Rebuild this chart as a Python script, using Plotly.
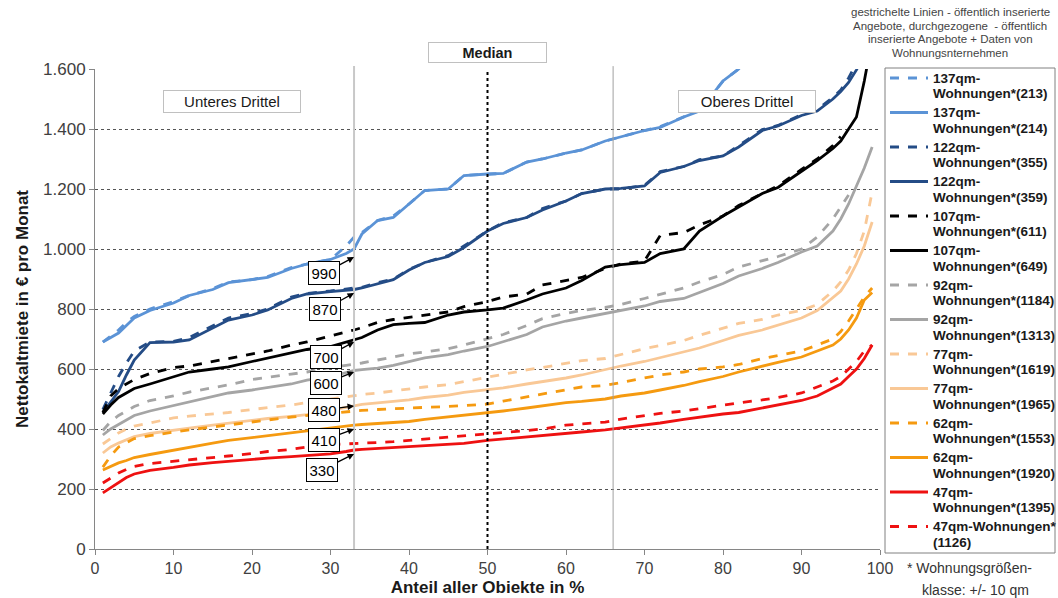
import plotly.graph_objects as go

# shared x grid (Anteil aller Objekte in %)
x_pct = [1, 2, 3, 4, 5, 7, 10, 12, 15, 17, 20, 22, 25, 27, 30, 32, 33, 34, 36, 38, 40, 42, 45, 47, 50,
         52, 55, 57, 60, 62, 65, 67, 70, 72, 75, 77, 80, 82, 85, 87, 90, 92, 94, 95, 96, 97, 98, 99]

qm137_dashed = [690, 710, 730, 755, 775, 800, 825, 845, 868, 890, 898, 908, 938, 950, 965, 1010, 1040, 1055, 1095, 1110, 1150, 1195, 1200, 1245, 1250,
                1252, 1290, 1300, 1320, 1330, 1360, 1375, 1395, 1408, 1440, 1462, 1560, 1600, 1700, None, None, None, None, None, None, None, None, None]
qm137_solid = [690, 705, 720, 745, 770, 795, 820, 845, 865, 888, 898, 905, 935, 950, 965, 985, 1000, 1050, 1095, 1105, 1150, 1195, 1200, 1245, 1250,
               1252, 1290, 1300, 1320, 1330, 1360, 1375, 1395, 1405, 1440, 1460, 1560, 1600, 1700, None, None, None, None, None, None, None, None, None]
qm122_dashed = [465, 520, 575, 620, 660, 690, 692, 705, 745, 770, 785, 800, 840, 852, 860, 868, 870, 872, 888, 900, 932, 955, 978, 1010, 1060,
                1088, 1105, 1135, 1160, 1185, 1200, 1200, 1212, 1258, 1275, 1298, 1310, 1345, 1398, 1412, 1448, 1465, 1505, 1530, 1570, 1620, None, None]
qm122_solid = [455, 490, 525, 580, 630, 688, 690, 697, 735, 763, 780, 797, 835, 850, 858, 862, 865, 870, 885, 898, 930, 955, 975, 1005, 1060,
               1085, 1105, 1130, 1160, 1185, 1200, 1202, 1210, 1255, 1275, 1295, 1310, 1340, 1395, 1410, 1445, 1460, 1500, 1525, 1555, 1597, 1650, None]
qm107_dashed = [455, 510, 535, 550, 565, 585, 605, 610, 625, 635, 650, 660, 680, 690, 710, 722, 730, 738, 755, 765, 772, 778, 790, 808, 825,
                840, 850, 880, 895, 905, 935, 950, 960, 1045, 1055, 1080, 1110, 1145, 1185, 1210, 1265, 1300, 1345, 1375, None, None, None, None]
qm107_solid = [450, 480, 505, 520, 535, 550, 575, 590, 600, 607, 625, 637, 655, 665, 675, 690, 697, 705, 730, 748, 752, 755, 780, 790, 797,
               803, 830, 850, 870, 895, 940, 948, 955, 985, 1000, 1060, 1110, 1140, 1185, 1205, 1260, 1295, 1335, 1360, 1400, 1440, 1560, 1700]
qm92_dashed = [395, 425, 445, 460, 475, 495, 510, 523, 537, 547, 565, 573, 583, 590, 605, 612, 615, 620, 630, 640, 650, 657, 668, 680, 700,
               715, 745, 768, 785, 795, 805, 815, 835, 848, 870, 890, 915, 940, 960, 975, 1000, 1040, 1100, 1140, 1180, None, None, None]
qm92_solid = [380, 400, 415, 430, 445, 460, 478, 490, 507, 520, 530, 537, 550, 563, 575, 588, 595, 598, 603, 612, 625, 637, 648, 660, 675,
              690, 715, 740, 760, 770, 785, 795, 810, 825, 835, 855, 885, 910, 935, 955, 990, 1010, 1060, 1100, 1150, 1210, 1270, 1340]
qm77_dashed = [350, 370, 387, 400, 410, 420, 437, 443, 450, 455, 465, 470, 480, 488, 500, 507, 512, 515, 520, 527, 532, 540, 548, 558, 573,
               583, 597, 605, 620, 628, 635, 648, 668, 678, 695, 712, 735, 752, 765, 780, 795, 815, 860, 890, 930, 985, 1060, 1190]
qm77_solid = [320, 340, 353, 365, 375, 385, 397, 403, 413, 420, 430, 435, 442, 448, 462, 472, 477, 482, 487, 492, 497, 505, 513, 522, 530,
              537, 550, 557, 570, 580, 598, 610, 625, 638, 655, 670, 695, 712, 730, 745, 770, 795, 840, 860, 900, 950, 1010, 1090]
qm62_dashed = [273, 310, 340, 355, 368, 378, 390, 397, 407, 413, 423, 430, 440, 445, 452, 458, 460, 462, 465, 468, 470, 472, 475, 478, 483,
               493, 507, 515, 530, 540, 545, 555, 570, 580, 590, 600, 607, 615, 635, 645, 660, 680, 700, 725, 760, 800, 840, 870]
qm62_solid = [263, 275, 287, 295, 305, 315, 330, 340, 353, 362, 372, 378, 387, 395, 403, 410, 413, 415, 418, 422, 425, 432, 440, 447, 453,
              460, 470, 478, 488, 492, 500, 510, 520, 530, 545, 558, 575, 590, 610, 622, 640, 660, 680, 700, 730, 770, 830, 855]
qm47_solid = [187, 205, 223, 238, 250, 262, 272, 280, 288, 293, 300, 303, 308, 312, 317, 325, 330, 332, 335, 338, 340, 343, 348, 352, 362,
              367, 375, 380, 387, 390, 397, 403, 412, 420, 432, 440, 450, 455, 470, 478, 495, 510, 535, 550, 575, 600, 635, 680]
qm47_dashed = [220, 238, 253, 265, 275, 285, 292, 298, 305, 310, 318, 325, 332, 340, 348, 350, 350, 352, 355, 358, 362, 367, 373, 377, 382,
               388, 395, 400, 413, 418, 423, 433, 445, 452, 460, 468, 480, 487, 497, 505, 520, 540, 560, 575, 600, 625, 660, 680]

series_names = [("137qm-", "Wohnungen*(213)"), ("137qm-", "Wohnungen*(214)"),
                ("122qm-", "Wohnungen*(355)"), ("122qm-", "Wohnungen*(359)"),
                ("107qm-", "Wohnungen*(611)"), ("107qm-", "Wohnungen*(649)"),
                ("92qm-", "Wohnungen*(1184)"), ("92qm-", "Wohnungen*(1313)"),
                ("77qm-", "Wohnungen*(1619)"), ("77qm-", "Wohnungen*(1965)"),
                ("62qm-", "Wohnungen*(1553)"), ("62qm-", "Wohnungen*(1920)"),
                ("47qm-", "Wohnungen*(1395)"), ("47qm-Wohnungen*", "(1126)")]
series_values = [qm137_dashed, qm137_solid, qm122_dashed, qm122_solid, qm107_dashed, qm107_solid,
                 qm92_dashed, qm92_solid, qm77_dashed, qm77_solid, qm62_dashed, qm62_solid,
                 qm47_solid, qm47_dashed]
series_colors = ["#5B93D6", "#5B93D6", "#244C86", "#244C86", "#000000", "#000000",
                 "#A5A5A5", "#A5A5A5", "#F9C896", "#F9C896", "#F59A10", "#F59A10",
                 "#EE1111", "#EE1111"]
series_dash = ["dash", "solid", "dash", "solid", "dash", "solid", "dash", "solid",
               "dash", "solid", "dash", "solid", "solid", "dash"]

# values at the lower-third boundary (33 %) and where the arrows point
arrow_labels = [990, 870, 700, 600, 480, 410, 330]
arrow_tips = [973, 853, 690, 590, 477, 400, 317]

# plot-area geometry (pixels) for paper-coordinate placement of outside texts
L, R, T, B = 95, 880, 69, 549
def px(xp):
    return (xp - L) / (R - L)
def py(yp):
    return (B - yp) / (B - T)

fig = go.Figure()
for (n1, n2), vals, col, dash in zip(series_names, series_values, series_colors, series_dash):
    fig.add_trace(go.Scatter(x=x_pct, y=vals, mode="lines", name=n1 + " " + n2,
                             line=dict(color=col, width=2.8, dash=dash), showlegend=False))

# vertical reference lines
fig.add_shape(type="line", xref="x", yref="paper", x0=33, x1=33, y0=0, y1=1.006,
              line=dict(color="#C8C8C8", width=2))
fig.add_shape(type="line", xref="x", yref="paper", x0=66, x1=66, y0=0, y1=1.006,
              line=dict(color="#A0A0A0", width=1))
fig.add_shape(type="line", xref="x", yref="paper", x0=50, x1=50, y0=0, y1=1.0,
              line=dict(color="#000000", width=2, dash="dot"))

# boxed annotations
fig.add_annotation(x=50, y=py(52.5), xref="x", yref="paper", yanchor="middle", xanchor="center",
                   text="<b>Median</b>", showarrow=False,
                   font=dict(size=14.5, color="#1a1a1a"), bgcolor="white", bordercolor="#C0C0C0",
                   borderwidth=1, width=115, height=17, borderpad=1)
fig.add_annotation(x=17.45, y=1493, xref="x", yref="y", text="Unteres Drittel", showarrow=False,
                   font=dict(size=15, color="#1a1a1a"), bgcolor="white", bordercolor="#C0C0C0",
                   borderwidth=1, width=134, height=19, borderpad=1)
fig.add_annotation(x=83.06, y=1493, xref="x", yref="y", text="Oberes Drittel", showarrow=False,
                   font=dict(size=15, color="#1a1a1a"), bgcolor="white", bordercolor="#C0C0C0",
                   borderwidth=1, width=134, height=19, borderpad=1)

label_offsets = [(-30, 16), (-29, 16), (-28, 15), (-28, 11), (-30, 4), (-30, 11), (-32, 16)]
for lab, tip, (oax, oay) in zip(arrow_labels, arrow_tips, label_offsets):
    fig.add_annotation(x=33, y=tip, xref="x", yref="y", text=str(lab), showarrow=True,
                       arrowhead=2, arrowsize=1, arrowwidth=1.3, arrowcolor="black",
                       ax=oax, ay=oay, font=dict(size=15, color="black"),
                       bgcolor="white", bordercolor="black", borderwidth=1, borderpad=2.5)

# top-right note
note_lines = ["gestrichelte Linien - öffentlich inserierte", "Angebote, durchgezogene  - öffentlich",
              "inserierte Angebote + Daten von", "Wohnungsnternehmen"]
for i, t in enumerate(note_lines):
    fig.add_annotation(xref="paper", yref="paper", x=px(950), y=py(12 + 13.7 * i), text=t,
                       showarrow=False, font=dict(size=11.5, color="#444444"), xanchor="center", yanchor="middle")
# bottom-right note
fig.add_annotation(xref="paper", yref="paper", x=px(905), y=py(568), xanchor="left", yanchor="middle",
                   text="* Wohnungsgrößen-", showarrow=False, font=dict(size=14, color="#333333"))
fig.add_annotation(xref="paper", yref="paper", x=px(920), y=py(590), xanchor="left", yanchor="middle",
                   text="klasse: +/- 10 qm", showarrow=False, font=dict(size=14, color="#333333"))

# legend (drawn in paper coordinates)
fig.add_shape(type="rect", xref="paper", yref="paper", x0=px(885), x1=px(1055), y0=py(553), y1=py(68),
              line=dict(color="#808080", width=1), fillcolor="rgba(0,0,0,0)", layer="above")
pitch = 34.5
for i, ((n1, n2), col, dash) in enumerate(zip(series_names, series_colors, series_dash)):
    yc = 78 + pitch * i
    fig.add_shape(type="line", xref="paper", yref="paper", x0=px(890), x1=px(928), y0=py(yc), y1=py(yc),
                  line=dict(color=col, width=2.8, dash=dash))
    fig.add_annotation(xref="paper", yref="paper", x=px(931), y=py(yc), xanchor="left", yanchor="middle",
                       text="<b>" + n1 + "</b>", showarrow=False, font=dict(size=13.5, color="#1a1a1a"))
    fig.add_annotation(xref="paper", yref="paper", x=px(931), y=py(yc + 15.5), xanchor="left", yanchor="middle",
                       text="<b>" + n2 + "</b>", showarrow=False, font=dict(size=13.5, color="#1a1a1a"))

fig.update_layout(
    width=1058, height=598,
    margin=dict(l=L, r=1058 - R, t=T, b=598 - B, autoexpand=False),
    paper_bgcolor="white", plot_bgcolor="white",
    font=dict(family="Liberation Sans, Arial, sans-serif", color="#333333"),
    separators=",.",
    showlegend=False,
    xaxis=dict(range=[0, 100], tickvals=list(range(0, 101, 10)), showgrid=False, zeroline=False,
               showline=True, linecolor="#868686", linewidth=1, ticks="outside", ticklen=5,
               tickcolor="#868686", tickfont=dict(size=16, color="#404040"), automargin=False,
               title=dict(text="<b>Anteil aller Obiekte in %</b>", font=dict(size=17, color="#1a1a1a"), standoff=4)),
    yaxis=dict(range=[0, 1600], tickvals=list(range(0, 1601, 200)), tickformat=",d",
               showgrid=True, gridcolor="#555555", griddash="dot", gridwidth=1, zeroline=False,
               showline=True, linecolor="#868686", linewidth=1, ticks="outside", ticklen=5,
               tickcolor="#868686", tickfont=dict(size=17, color="#404040"), automargin=False,
               title=dict(text="<b>Nettokaltmiete in € pro Monat</b>", font=dict(size=17, color="#1a1a1a"), standoff=10)),
)

fig.write_html("out.html", config={"displayModeBar": False},
               post_script="document.body.style.margin='0';document.body.style.overflow='hidden';")
